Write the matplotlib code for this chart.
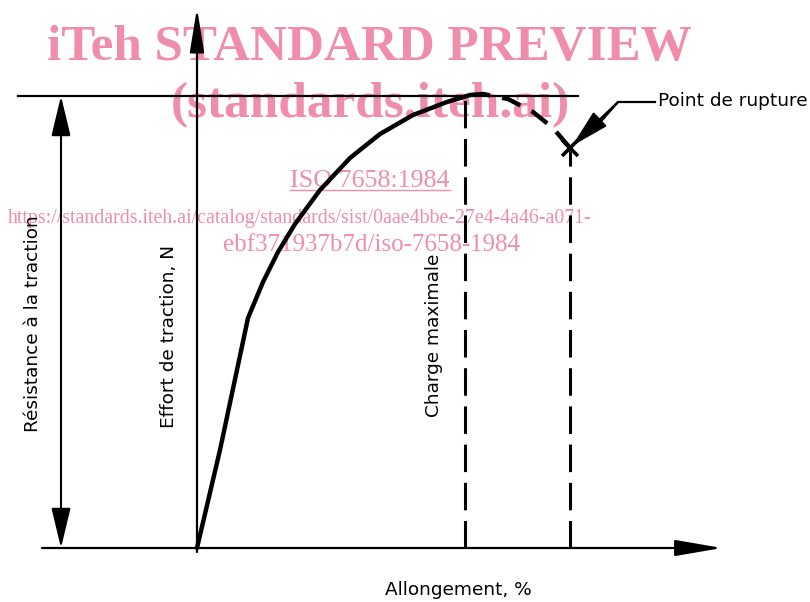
import matplotlib.pyplot as plt

# Schematic tensile curve (elongation in arbitrary %, force in arbitrary N)
curve_x = [0.0, 2.3, 5.1, 6.6, 8.1, 9.8, 12.3, 15.3, 18.3, 21.6, 25.0, 27.3]
curve_y = [0.0, 9.8, 23.0, 26.6, 29.6, 32.4, 35.8, 39.0, 41.4, 43.3, 44.6, 45.3]

# dashed part after maximum load, down to rupture
tail_x = [27.3, 28.6, 31.1, 33.6, 35.6, 37.3]
tail_y = [45.3, 45.4, 44.9, 43.6, 42.0, 40.0]

max_load = 45.2
max_load_x = 26.8
rupture_x, rupture_y = 37.3, 40.0

labels = {
    "resistance": "Résistance à la traction",
    "effort": "Effort de traction, N",
    "charge": "Charge maximale",
    "rupture": "Point de rupture",
    "allong": "Allongement, %",
}

watermark = [
    "iTeh STANDARD PREVIEW",
    "(standards.iteh.ai)",
    "ISO 7658:1984",
    "https://standards.iteh.ai/catalog/standards/sist/0aae4bbe-27e4-4a46-a071-",
    "ebf371937b7d/iso-7658-1984",
]

PINK = "#EF8DAB"
LABEL_FS = 13.3


def pos(px, py):
    # picture pixel -> data coordinates (origin at axes intersection)
    return (px - 197) / 10, (548 - py) / 10


fig = plt.figure(figsize=(8.1, 6.02), dpi=100)
ax = fig.add_axes([0, 0, 1, 1])
ax.set_xlim(-19.7, 61.3)
ax.set_ylim(-5.4, 54.8)
ax.axis("off")

# watermark (beneath the drawing)
serif = "Liberation Serif"
x, y = pos(369, 60)
ax.text(x, y, watermark[0], color=PINK, family=serif, weight="bold", fontsize=36.8,
        ha="center", va="baseline", zorder=0)
x, y = pos(370, 117)
ax.text(x, y, watermark[1], color=PINK, family=serif, weight="bold", fontsize=37,
        ha="center", va="baseline", zorder=0)
x, y = pos(370, 187)
ax.text(x, y, watermark[2], color=PINK, family=serif, fontsize=18.7,
        ha="center", va="baseline", zorder=0)
x0, yu = pos(290, 190)
x1, _ = pos(450, 190)
ax.plot([x0, x1], [yu, yu], color=PINK, lw=1.0, zorder=0)
x, y = pos(8, 223)
ax.text(x, y, watermark[3], color=PINK, family=serif, fontsize=14.3,
        ha="left", va="baseline", zorder=0)
x, y = pos(371, 251)
ax.text(x, y, watermark[4], color=PINK, family=serif, fontsize=18,
        ha="center", va="baseline", zorder=0)

k = dict(color="black", zorder=3)

# horizontal axis with arrow
xa, _ = pos(42, 548)
xb, _ = pos(722, 548)
ax.annotate("", xy=(xb, 0), xytext=(xa, 0),
            arrowprops=dict(arrowstyle="-|>,head_length=1.45,head_width=0.25",
                            mutation_scale=20, lw=1.6, color="black",
                            shrinkA=0, shrinkB=0), zorder=3)

# vertical axis with arrow
_, ya = pos(197, 552)
_, yb = pos(197, 8)
ax.annotate("", xy=(0, yb), xytext=(0, ya),
            arrowprops=dict(arrowstyle="-|>,head_length=1.35,head_width=0.22",
                            mutation_scale=20, lw=1.6, color="black",
                            shrinkA=0, shrinkB=0), zorder=3)

# maximum load line
xl, _ = pos(18, 96)
xr, _ = pos(578, 96)
ax.plot([xl, xr], [max_load, max_load], lw=1.6, **k)

# tensile strength double arrow
xd, _ = pos(61, 0)
ax.annotate("", xy=(xd, max_load), xytext=(xd, 0),
            arrowprops=dict(arrowstyle="<|-|>,head_length=1.25,head_width=0.3",
                            mutation_scale=20, lw=1.5, color="black",
                            shrinkA=0, shrinkB=0), zorder=3)

# curve
ax.plot(curve_x, curve_y, lw=3.2, solid_capstyle="round", solid_joinstyle="round", **k)
ax.plot(tail_x, tail_y, lw=3.2, ls=(0, (4.5, 2.8)), **k)

# dashed verticals
ax.plot([max_load_x, max_load_x], [0, max_load], lw=2.2, ls=(0, (9, 3.5)), **k)
ax.plot([rupture_x, rupture_x], [0, rupture_y], lw=2.2, ls=(0, (9, 3.5)), **k)

# rupture marker
ax.plot([rupture_x], [rupture_y], marker="x", ms=11, mew=2.6, **k)

# leader to rupture point
lx0, ly0 = pos(655, 102)
lx1, ly1 = pos(618, 102)
lx2, ly2 = pos(596, 127)
ax.plot([lx0, lx1, lx2], [ly0, ly1, ly2], lw=1.6, **k)
tx, ty = pos(572, 146)
ax.annotate("", xy=(tx, ty), xytext=(lx1, ly1),
            arrowprops=dict(arrowstyle="-|>,head_length=1.2,head_width=0.3",
                            mutation_scale=20, lw=1.6, color="black",
                            shrinkA=0, shrinkB=0), zorder=3)

# labels
x, y = pos(33, 432)
ax.text(x, y, labels["resistance"], rotation=90, fontsize=LABEL_FS,
        ha="center", va="bottom", zorder=4)
x, y = pos(169, 428)
ax.text(x, y, labels["effort"], rotation=90, fontsize=LABEL_FS,
        ha="center", va="bottom", zorder=4)
x, y = pos(434, 417)
ax.text(x, y, labels["charge"], rotation=90, fontsize=LABEL_FS,
        ha="center", va="bottom", zorder=4)
x, y = pos(658, 101)
ax.text(x, y, labels["rupture"], fontsize=LABEL_FS, ha="left", va="center", zorder=4)
x, y = pos(458, 590)
ax.text(x, y, labels["allong"], fontsize=LABEL_FS, ha="center", va="center", zorder=4)

fig.savefig("out.png", dpi=100)
